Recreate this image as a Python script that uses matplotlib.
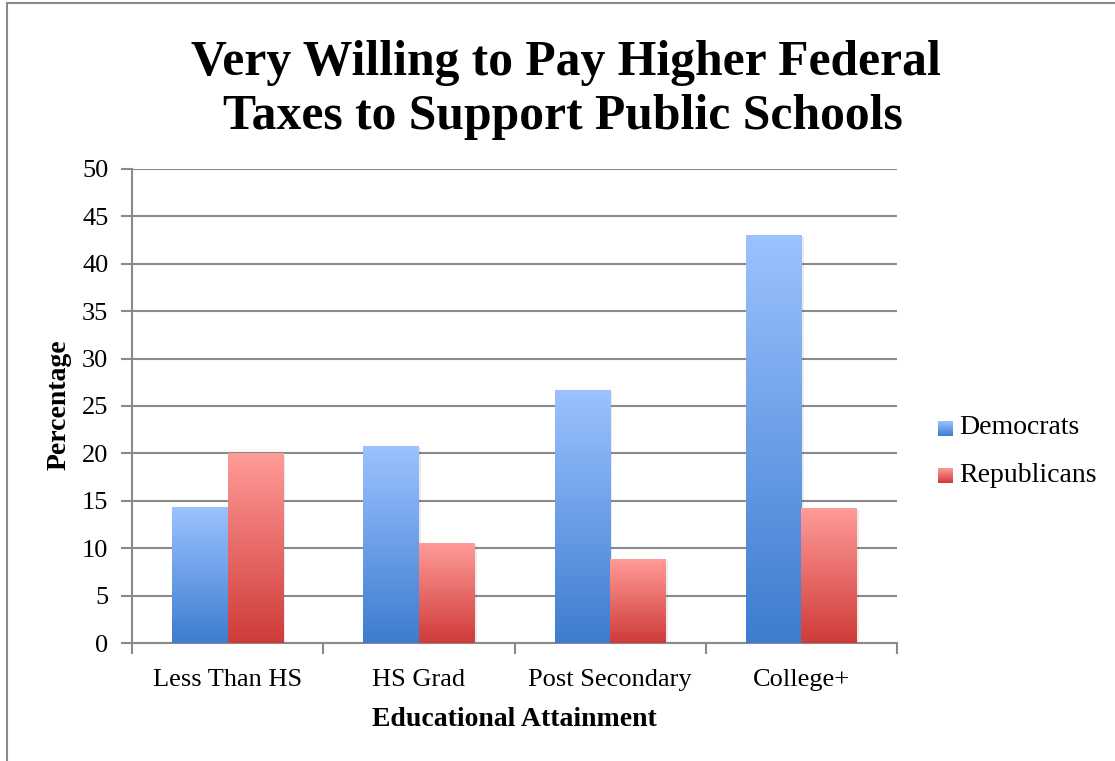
import numpy as np
import matplotlib.pyplot as plt
from matplotlib.colors import LinearSegmentedColormap
from matplotlib.patches import Rectangle

categories = ['Less Than HS', 'HS Grad', 'Post Secondary', 'College+']
democrats = [14.3, 20.7, 26.6, 43.0]
republicans = [20.0, 10.5, 8.8, 14.2]

plt.rcParams['font.family'] = ['Liberation Serif', 'DejaVu Serif']

blue_cmap = LinearSegmentedColormap.from_list('dem', ['#3d7ccf', '#9cc2ff'])
red_cmap = LinearSegmentedColormap.from_list('rep', ['#cf3b38', '#ff9b98'])

W, H = 1115, 761
fig = plt.figure(figsize=(W / 100, H / 100), dpi=100)
ax = fig.add_axes([132 / W, 1 - 643 / H, 765 / W, 474 / H])

# outer frame around the chart area
fig.add_artist(Rectangle((7 / W, -0.01), 1.2, 1 - 3 / H + 0.01,
                         transform=fig.transFigure, fill=False,
                         edgecolor='#8a8a8a', linewidth=1.5))

x = np.arange(len(categories))
width = 0.29
grad = np.linspace(0, 1, 256).reshape(-1, 1)


def gradient_bar(xc, h, cmap):
    x0, x1 = xc - width / 2, xc + width / 2
    ax.add_patch(Rectangle((x0 + 0.012, 0), width, h - 0.15, facecolor='#000000',
                           alpha=0.08, linewidth=0, zorder=2))
    ax.imshow(grad, extent=[x0, x1, 0, h], origin='lower', cmap=cmap,
              aspect='auto', zorder=3, interpolation='bilinear')


for i in range(len(categories)):
    gradient_bar(x[i] - width / 2, democrats[i], blue_cmap)
    gradient_bar(x[i] + width / 2, republicans[i], red_cmap)

ax.set_xlim(-0.5, len(categories) - 0.5)
ax.set_ylim(0, 50)
ax.set_yticks(range(0, 51, 5))
ax.yaxis.grid(True, color='#8a8a8a', linewidth=1.5)
ax.set_axisbelow(True)

ax.set_xticks(x)
ax.set_xticklabels(categories, fontsize=19)
ax.set_xticks(np.arange(-0.5, len(categories)), minor=True)
ax.tick_params(axis='x', which='major', length=0, pad=18.5)
ax.tick_params(axis='x', which='minor', length=8, width=1.5, color='#8a8a8a')
ax.tick_params(axis='y', length=8, width=1.5, color='#8a8a8a', labelsize=19, pad=9)

for side in ['top', 'right']:
    ax.spines[side].set_visible(False)
for side in ['left', 'bottom']:
    ax.spines[side].set_color('#8a8a8a')
    ax.spines[side].set_linewidth(1.5)

ax.set_xlabel('Educational Attainment', fontsize=20, fontweight='bold', va='center')
ax.xaxis.set_label_coords(0.4994, -(719 - 643) / 474)
ax.set_ylabel('Percentage', fontsize=20, fontweight='bold', va='center')
ax.yaxis.set_label_coords((59 - 132) / 765, (643 - 405) / 474)

fig.text(566 / W, 1 - 75 / H, 'Very Willing to Pay Higher Federal',
         ha='center', va='baseline', fontsize=35.7, fontweight='bold')
fig.text(563 / W, 1 - 129 / H, 'Taxes to Support Public Schools',
         ha='center', va='baseline', fontsize=35.7, fontweight='bold')

# legend with small gradient swatches
for label, cmap, ly in [('Democrats', blue_cmap, 428), ('Republicans', red_cmap, 475)]:
    sw = fig.add_axes([938 / W, 1 - (ly + 8) / H, 15 / W, 15 / H])
    sw.imshow(grad, origin='lower', cmap=cmap, aspect='auto')
    sw.axis('off')
    fig.text(959 / W, 1 - ly / H, label, fontsize=20, va='center', ha='left')

fig.savefig('out.png', dpi=100)
